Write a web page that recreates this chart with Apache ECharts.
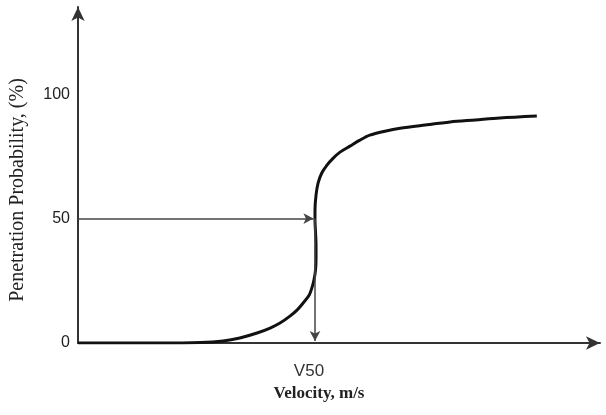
<!DOCTYPE html>
<html>
<head>
<meta charset="utf-8">
<script src="https://cdn.jsdelivr.net/npm/echarts@6/dist/echarts.min.js"></script>
<style>
  html, body { margin: 0; padding: 0; background: #fff; }
  #main { width: 606px; height: 415px; }
</style>
</head>
<body>
<div id="main"></div>
<script>
// 曲线数据 (速度, 穿透概率%)
var velocity = [0, 15.7, 23.4, 27.8, 31.0, 34.3, 36.8, 38.7, 40.6, 42.0, 43.3, 44.3, 44.8, 45.2, 45.5, 45.6, 45.6, 45.5, 45.4,
  45.4, 45.6, 46.0, 46.7, 47.7, 48.9, 50.2, 52.1, 54.0, 55.9, 58.8, 61.7, 66.5, 71.3, 76.1, 80.8, 87.9];
var probability = [0, 0, 0.2, 0.8, 2.0, 4.0, 6.0, 8.0, 10.8, 13.3, 16.5, 19.3, 22.1, 25.3, 29.3, 34.1, 39.4, 44.6, 49.4,
  53.4, 59.4, 64.3, 68.3, 71.5, 74.3, 76.7, 79.1, 81.5, 83.5, 85.1, 86.3, 87.6, 88.8, 89.6, 90.4, 91.2];
var v50 = 45.4;
var yTicks = [0, 50, 100];

var chart = echarts.init(document.getElementById('main'));

var points = velocity.map(function (v, i) { return [v, probability[i]]; });

var option = {
  animation: false,
  grid: { left: 78, right: 6, top: 7, bottom: 72 },
  xAxis: {
    type: 'value',
    min: 0,
    max: 100,
    name: 'Velocity, m/s',
    nameLocation: 'middle',
    nameGap: 42,
    nameTextStyle: {
      fontFamily: 'Liberation Serif',
      fontWeight: 'bold',
      fontSize: 17,
      color: '#222',
      padding: [0, 40, 0, 0]
    },
    axisLine: {
      show: true,
      symbol: ['none', 'arrow'],
      symbolSize: [10, 14],
      lineStyle: { color: '#333', width: 2 }
    },
    axisTick: { show: false },
    splitLine: { show: false },
    axisLabel: {
      customValues: [v50],
      formatter: function () { return 'V50'; },
      fontFamily: 'Liberation Sans',
      fontSize: 17,
      color: '#333',
      margin: 20,
      padding: [0, 12, 0, 0]
    }
  },
  yAxis: {
    type: 'value',
    min: 0,
    max: 135,
    name: 'Penetration Probability, (%)',
    nameLocation: 'middle',
    nameGap: 50,
    nameTextStyle: {
      fontFamily: 'Liberation Serif',
      fontSize: 20,
      color: '#222',
      padding: [0, 30, 0, 0]
    },
    axisLine: {
      show: true,
      symbol: ['none', 'arrow'],
      symbolSize: [10, 14],
      lineStyle: { color: '#333', width: 2 }
    },
    axisTick: { show: false },
    splitLine: { show: false },
    axisLabel: {
      customValues: yTicks,
      fontFamily: 'Liberation Sans',
      fontSize: 16,
      color: '#222',
      margin: 8
    }
  },
  series: [{
    type: 'line',
    data: points,
    smooth: 0.3,
    showSymbol: false,
    lineStyle: { color: '#111', width: 3 },
    markLine: {
      silent: true,
      symbol: ['none', 'arrow'],
      symbolSize: [8, 10],
      label: { show: false },
      lineStyle: { color: '#444', width: 1.5, type: 'solid' },
      data: [
        [{ coord: [0, 50] }, { coord: [v50 - 0.3, 50] }],
        [{ coord: [v50, 50] }, { coord: [v50, 0.8] }]
      ]
    }
  }]
};

chart.setOption(option);
</script>
</body>
</html>
